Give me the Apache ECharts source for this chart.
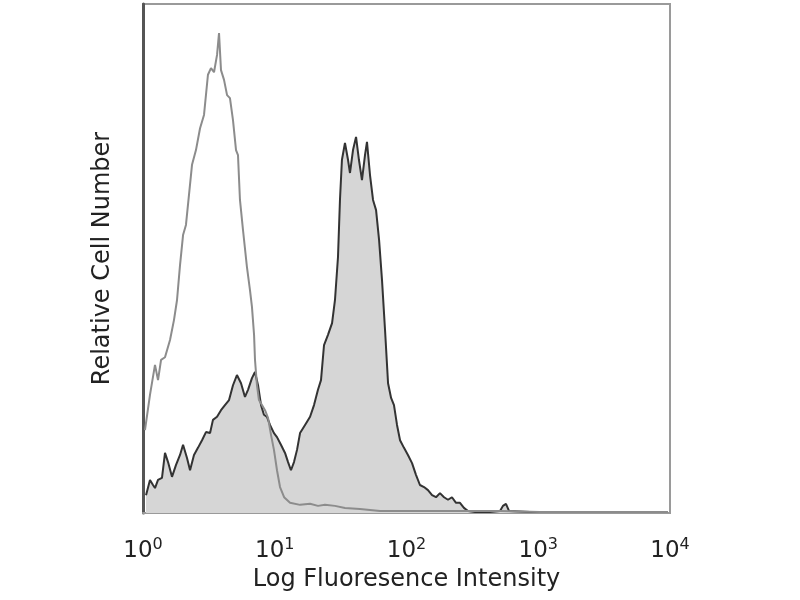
<!DOCTYPE html>
<html>
<head>
<meta charset="utf-8">
<script src="https://cdn.jsdelivr.net/npm/echarts@6/dist/echarts.min.js"></script>
<style>html,body{margin:0;padding:0;background:#fff}#c{width:800px;height:600px}</style>
</head>
<body>
<div id="c"></div>
<script>
// x values are log10(fluorescence intensity), y values are relative cell number (0-100)
const tickExponents = [0, 1, 2, 3, 4];
const xAxisTitle = 'Log Fluoresence Intensity';
const yAxisTitle = 'Relative Cell Number';

const controlLogX = [0.015,0.053,0.091,0.114,0.137,0.167,0.205,0.235,0.258,0.281,0.304,0.326,0.349,0.372,0.402,0.433,0.463,0.493,0.516,0.539,0.562,0.577,0.592,0.615,0.638,0.660,0.683,0.706,0.721,0.736,0.759,0.789,0.812,0.827,0.843,0.850,0.865,0.880,0.903,0.926,0.949,0.972,0.994,1.017,1.040,1.071,1.116,1.192,1.268,1.328,1.381,1.457,1.533,1.647,1.799,2.102,2.482,2.710,3.013,3.469,3.985];
const controlCount = [16.3,23.2,29.1,26.1,30.1,30.6,34.0,37.9,41.8,48.7,54.6,56.6,62.5,68.4,71.3,75.6,78.2,86.1,87.4,86.6,90.0,94.3,87.0,85.1,82.1,81.5,77.2,71.3,70.3,61.5,55.6,48.3,43.8,40.5,35.0,30.1,25.1,22.2,21.2,20.2,18.7,15.3,12.4,8.4,5.1,3.1,2.0,1.6,1.8,1.4,1.6,1.4,1.0,0.8,0.4,0.4,0.4,0.4,0.2,0.2,0.2];

const stainedLogX = [0.023,0.053,0.076,0.091,0.114,0.144,0.167,0.190,0.220,0.250,0.281,0.304,0.334,0.357,0.387,0.417,0.448,0.478,0.509,0.531,0.562,0.592,0.622,0.653,0.683,0.713,0.744,0.774,0.797,0.827,0.850,0.873,0.896,0.918,0.941,0.964,0.994,1.017,1.047,1.078,1.101,1.123,1.146,1.169,1.192,1.230,1.268,1.298,1.328,1.351,1.374,1.404,1.435,1.457,1.480,1.495,1.510,1.533,1.556,1.571,1.594,1.617,1.639,1.662,1.685,1.700,1.723,1.746,1.769,1.792,1.814,1.837,1.860,1.883,1.905,1.928,1.951,1.981,2.011,2.042,2.072,2.102,2.133,2.163,2.194,2.224,2.254,2.285,2.315,2.345,2.376,2.406,2.436,2.467,2.520,2.634,2.710,2.732,2.755,2.778,2.937,3.165,3.469,3.985];
const stainedCount = [3.5,6.5,5.5,4.9,6.5,6.9,11.8,10.0,7.1,9.4,11.4,13.4,10.8,8.4,11.4,12.8,14.3,15.9,15.7,18.3,18.9,20.2,21.2,22.2,25.1,27.1,25.5,22.8,24.2,26.5,27.7,25.1,21.2,19.3,18.9,17.3,15.7,14.9,13.4,11.8,10.0,8.4,10.0,12.4,15.7,17.3,18.9,21.2,24.2,26.1,33.0,35.0,37.3,41.8,50.3,61.5,69.4,72.7,69.4,66.8,71.3,73.9,69.4,65.4,70.3,72.9,66.4,61.5,59.5,53.6,45.8,36.0,25.5,22.6,21.2,17.3,14.3,12.8,11.4,9.8,7.5,5.5,5.1,4.5,3.5,3.1,3.9,3.1,2.6,3.1,2.0,2.0,1.0,0.4,0.2,0.2,0.4,1.4,1.8,0.4,0.2,0.2,0.2,0.2];

const pair = (xs, ys) => xs.map((x, i) => [x, ys[i]]);
const FONT = 'DejaVu Sans';

const chart = echarts.init(document.getElementById('c'), null, {renderer: 'canvas'});
chart.setOption({
  backgroundColor: '#ffffff',
  animation: false,
  grid: {left: 143, right: 130, top: 4, bottom: 87, show: true, borderColor: '#9a9a9a', borderWidth: 2, backgroundColor: 'transparent'},
  xAxis: {
    type: 'value', min: 0, max: 4, interval: 1,
    name: xAxisTitle, nameLocation: 'middle', nameGap: 55,
    nameTextStyle: {fontFamily: FONT, fontSize: 24, color: '#222'},
    axisLine: {show: true, lineStyle: {color: '#9a9a9a', width: 2}},
    axisTick: {show: false},
    splitLine: {show: false},
    axisLabel: {
      margin: 24,
      formatter: v => '{b|10}{s|' + tickExponents[Math.round(v)] + '}',
      rich: {
        b: {fontFamily: FONT, fontSize: 23, color: '#222'},
        s: {fontFamily: FONT, fontSize: 16, color: '#222', padding: [0, 0, 12, 0]}
      }
    }
  },
  yAxis: {
    type: 'value', min: 0, max: 100,
    name: yAxisTitle, nameLocation: 'middle', nameGap: 28,
    nameTextStyle: {fontFamily: FONT, fontSize: 24, color: '#222'},
    axisLine: {show: true, lineStyle: {color: '#555', width: 3}},
    axisTick: {show: false},
    axisLabel: {show: false},
    splitLine: {show: false}
  },
  series: [
    {
      type: 'line', data: pair(stainedLogX, stainedCount), symbol: 'none',
      lineStyle: {color: '#333', width: 2},
      areaStyle: {color: '#d6d6d6', opacity: 1},
      z: 2
    },
    {
      type: 'line', data: pair(controlLogX, controlCount), symbol: 'none',
      lineStyle: {color: '#8c8c8c', width: 2},
      z: 3
    }
  ]
});
</script>
</body>
</html>
